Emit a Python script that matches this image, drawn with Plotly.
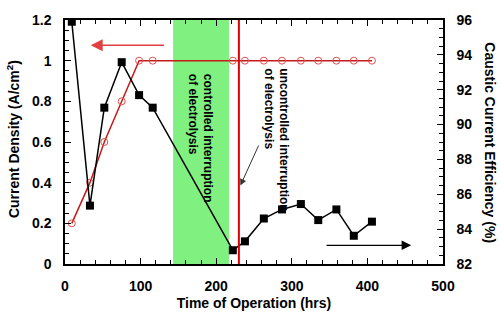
import plotly.graph_objects as go

hours = [9, 33, 52, 75, 98, 116, 222, 238, 263, 287, 312, 335, 359, 382, 406]
current_density = [0.2, 0.4, 0.6, 0.8, 1.0, 1.0, 1.0, 1.0, 1.0, 1.0, 1.0, 1.0, 1.0, 1.0, 1.0]
caustic_eff = [95.9, 85.35, 90.97, 93.58, 91.69, 90.97, 82.79, 83.3, 84.61, 85.13,
               85.44, 84.52, 85.13, 83.62, 84.43]

controlled_span = [143, 217]
uncontrolled_time = 230

FONT = "Liberation Sans, Arial, sans-serif"

fig = go.Figure()

fig.add_trace(go.Scatter(
    x=hours, y=current_density, mode="lines+markers",
    line=dict(color="#c41a1a", width=1.5),
    marker=dict(symbol="circle-open", size=7, color="#e05050", line=dict(width=1)),
    yaxis="y", showlegend=False))

fig.add_trace(go.Scatter(
    x=hours, y=caustic_eff, mode="lines+markers",
    line=dict(color="black", width=1.5),
    marker=dict(symbol="square", size=8, color="black"),
    yaxis="y2", showlegend=False))

fig.add_shape(type="rect", xref="x", yref="paper",
              x0=controlled_span[0], x1=controlled_span[1], y0=0, y1=1,
              fillcolor="#80f080", line=dict(width=0), layer="below")
fig.add_shape(type="line", xref="x", yref="paper",
              x0=uncontrolled_time, x1=uncontrolled_time, y0=0, y1=1,
              line=dict(color="#e00000", width=2))

# direction arrows
fig.add_annotation(x=34, y=1.076, ax=133, ay=1.076, xref="x", yref="y",
                   axref="x", ayref="y", text="", showarrow=True,
                   arrowhead=2, arrowsize=1.6, arrowwidth=1.5, arrowcolor="#e04040")
fig.add_annotation(x=458, y=0.092, ax=344, ay=0.092, xref="x", yref="y",
                   axref="x", ayref="y", text="", showarrow=True,
                   arrowhead=2, arrowsize=1.6, arrowwidth=1.2, arrowcolor="black")
# pointer to the uncontrolled line
fig.add_annotation(x=232, y=0.386, ax=257, ay=0.59, xref="x", yref="y",
                   axref="x", ayref="y", text="", showarrow=True,
                   arrowhead=2, arrowsize=1.3, arrowwidth=1, arrowcolor="#333333")

fig.add_annotation(x=179, y=0.946, xref="x", yref="y",
                   text="<b>controlled interruption<br>of electrolysis</b>",
                   textangle=90, showarrow=False, align="left", xanchor="center", yanchor="top",
                   font=dict(family=FONT, size=12, color="black"))
fig.add_annotation(x=279, y=0.97, xref="x", yref="y",
                   text="<b>uncontrolled interruption<br>of electrolysis</b>",
                   textangle=90, showarrow=False, align="left", xanchor="center", yanchor="top",
                   font=dict(family=FONT, size=12, color="black"))

fig.add_annotation(x=1.124, y=0.495, xref="paper", yref="paper", xanchor="center", yanchor="middle",
                   text="<b>Caustic Current Efficiency (%)</b>", textangle=90, showarrow=False,
                   font=dict(family=FONT, size=14, color="black"))
fig.add_annotation(x=-0.137, y=0.513, xref="paper", yref="paper", xanchor="center", yanchor="middle",
                   text="<b>Current Density (A/cm<sup>2</sup>)</b>", textangle=-90, showarrow=False,
                   font=dict(family=FONT, size=14, color="black"))

tickfont = dict(family=FONT, size=14, color="black")

fig.update_layout(
    width=500, height=321,
    margin=dict(l=65, r=57, t=13, b=54),
    paper_bgcolor="white", plot_bgcolor="white",
    font=dict(family=FONT, color="black"),
    xaxis=dict(range=[0, 500], dtick=100, ticks="inside", ticklen=6, tickwidth=1,
               tickcolor="black", showline=True, linecolor="black", linewidth=1.5,
               mirror="ticks", showgrid=False, zeroline=False, tickfont=tickfont,
               ticklabelstandoff=8, tickprefix="<b>", ticksuffix="</b>",
               minor=dict(dtick=20, ticks="inside", ticklen=4, tickcolor="black"),
               title=dict(text="<b>Time of Operation (hrs)</b>", font=dict(family=FONT, size=14),
                          standoff=6)),
    yaxis=dict(range=[0, 1.2], dtick=0.2, ticks="inside", ticklen=6, tickcolor="black",
               showline=True, linecolor="black", linewidth=1.5, showgrid=False,
               zeroline=False, tickfont=tickfont, ticklabelstandoff=9,
               tickprefix="<b>", ticksuffix="</b>",
               minor=dict(dtick=0.05, ticks="inside", ticklen=4, tickcolor="black")),
    yaxis2=dict(range=[82, 96], dtick=2, overlaying="y", side="right", ticks="inside",
                ticklen=6, tickcolor="black", showline=True, linecolor="black",
                linewidth=1.5, showgrid=False, zeroline=False, tickfont=tickfont,
                ticklabelstandoff=9, tickprefix="<b>", ticksuffix="</b>",
                minor=dict(dtick=0.5, ticks="inside", ticklen=4, tickcolor="black")),
)

fig.write_html("out.html")
